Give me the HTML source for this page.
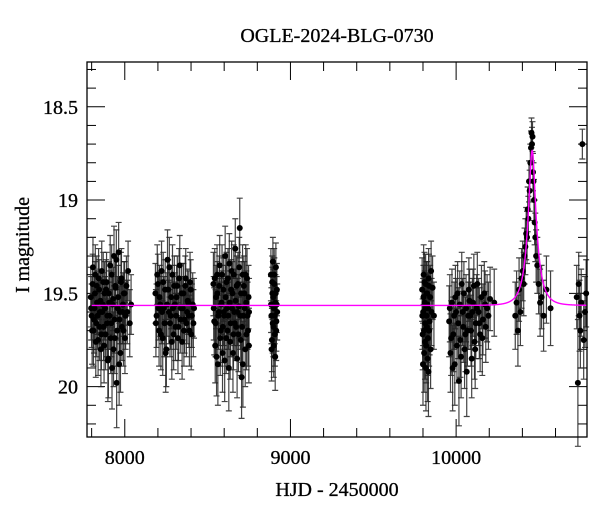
<!DOCTYPE html>
<html><head><meta charset="utf-8"><style>
html,body{margin:0;padding:0;background:#fff;}
svg{display:block;font-family:"Liberation Serif",serif;}
</style></head><body>
<svg id="chart" width="600" height="512" viewBox="0 0 600 512" xmlns="http://www.w3.org/2000/svg">
<text x="337" y="42" font-size="20" text-anchor="middle" stroke="#000" stroke-width="0.3">OGLE-2024-BLG-0730</text>
<text x="337" y="496" font-size="20" text-anchor="middle" stroke="#000" stroke-width="0.3">HJD - 2450000</text>
<text x="0" y="0" font-size="20" text-anchor="middle" stroke="#000" stroke-width="0.3" transform="translate(29,245) rotate(-90)">I magnitude</text>
<g id="ticks"></g>
<g id="errs"></g>
<g id="pts"></g>
<path id="model" fill="none" stroke="#ff00ff" stroke-width="1.4"/>
<rect x="87" y="62" width="500" height="375" fill="none" stroke="#000" stroke-width="1.3"/>
</svg>
<script>
const xTicksMajor = [8000, 9000, 10000];
const yTicksMajor = [18.5, 19, 19.5, 20];
const yTickLabels = ["18.5", "19", "19.5", "20"];
const modelParams = [10459, 60, 0.3, 0.47, 19.565]; // t0, tE, u0, fs, baseline

const hjd1 = [7795,7800,7806,7811,7817,7822,7828,7833,7839,7845,7850,7856,7861,7867,7872,7878,7884,7890,7895,7901,7906,7912,7918,7923,7929,7935,7940,7946,7951,7957,7963,7968,7974,7980,7986,7992,7998,8005,8020,8038];
const mag1 = [19.52,19.62,19.45,19.70,19.58,19.40,19.66,19.55,19.75,19.48,19.60,19.80,19.38,19.56,19.68,19.50,19.72,19.44,19.62,19.85,19.55,19.35,19.66,19.90,19.53,19.30,19.74,19.47,19.98,19.58,19.28,19.64,19.82,19.42,19.60,19.70,19.50,19.62,19.38,19.56];
const err1 = [0.16,0.17,0.16,0.19,0.17,0.16,0.18,0.17,0.19,0.16,0.17,0.20,0.16,0.17,0.18,0.17,0.19,0.16,0.18,0.21,0.17,0.16,0.18,0.22,0.17,0.16,0.19,0.17,0.24,0.17,0.16,0.18,0.21,0.16,0.17,0.19,0.17,0.18,0.16,0.16];
const hjd1b = [7797,7803,7808,7814,7820,7825,7831,7836,7842,7848,7853,7859,7864,7870,7875,7881,7887,7893,7898,7904,7909,7915,7921,7926,7932,7938,7943,7949,7954,7960,7966,7971,7977,7983,7989,7995,8001,8010,8015,8030];
const mag1b = [19.58,19.70,19.36,19.64,19.50,19.76,19.46,19.62,19.42,19.68,19.54,19.72,19.60,19.44,19.78,19.58,19.48,19.66,19.86,19.50,19.62,19.74,19.40,19.56,19.80,19.64,19.46,19.32,19.70,19.52,19.88,19.60,19.44,19.68,19.56,19.50,19.74,19.46,19.60,19.66];
const err1b = [0.17,0.18,0.16,0.18,0.17,0.19,0.16,0.18,0.16,0.18,0.17,0.19,0.17,0.16,0.20,0.17,0.16,0.18,0.22,0.17,0.18,0.19,0.16,0.17,0.20,0.18,0.16,0.16,0.19,0.17,0.22,0.17,0.16,0.18,0.17,0.17,0.19,0.16,0.17,0.18];

const hjd2 = [8185,8192,8200,8207,8214,8222,8229,8236,8244,8251,8258,8266,8273,8280,8288,8295,8302,8310,8317,8324,8332,8339,8346,8354,8361,8368,8376,8383,8390,8398,8405,8418];
const mag2 = [19.50,19.62,19.45,19.70,19.56,19.38,19.74,19.58,19.48,19.80,19.32,19.60,19.66,19.52,19.40,19.72,19.56,19.62,19.46,19.68,19.35,19.58,19.76,19.50,19.64,19.42,19.60,19.55,19.70,19.48,19.62,19.58];
const err2 = [0.16,0.17,0.16,0.19,0.17,0.16,0.20,0.17,0.16,0.20,0.16,0.17,0.18,0.17,0.16,0.19,0.17,0.18,0.16,0.18,0.16,0.17,0.20,0.16,0.18,0.16,0.17,0.17,0.19,0.16,0.17,0.16];
const hjd2b = [8188,8196,8203,8210,8218,8225,8232,8240,8247,8255,8262,8269,8277,8284,8291,8299,8306,8313,8321,8328,8335,8343,8350,8357,8365,8372,8380,8387,8394,8401,8410,8414];
const mag2b = [19.66,19.40,19.58,19.52,19.72,19.60,19.44,19.66,19.82,19.56,19.48,19.36,19.62,19.76,19.58,19.46,19.68,19.52,19.74,19.42,19.64,19.50,19.58,19.70,19.46,19.66,19.54,19.62,19.44,19.72,19.56,19.66];
const err2b = [0.18,0.16,0.17,0.17,0.19,0.17,0.16,0.18,0.21,0.17,0.16,0.16,0.18,0.20,0.17,0.16,0.18,0.17,0.19,0.16,0.18,0.16,0.17,0.19,0.16,0.18,0.17,0.17,0.16,0.19,0.17,0.18];

const hjd3 = [8535,8540,8546,8551,8557,8562,8568,8573,8579,8584,8590,8595,8601,8606,8612,8617,8623,8628,8634,8639,8645,8650,8656,8661,8667,8672,8678,8683,8689,8694,8700,8705,8711,8716,8722,8727,8733,8738,8744,8750];
const mag3 = [19.45,19.65,19.78,19.52,19.40,19.88,19.60,19.35,19.70,19.55,19.82,19.48,19.62,19.30,19.74,19.58,19.42,19.90,19.55,19.66,19.38,19.50,19.72,19.60,19.26,19.68,19.85,19.45,19.57,19.15,19.75,19.95,19.40,19.62,19.50,19.80,19.55,19.42,19.70,19.60];
const err3 = [0.17,0.18,0.20,0.17,0.16,0.22,0.18,0.16,0.19,0.17,0.21,0.17,0.18,0.16,0.19,0.17,0.16,0.23,0.17,0.18,0.16,0.17,0.19,0.18,0.16,0.18,0.21,0.17,0.17,0.16,0.19,0.22,0.16,0.18,0.17,0.20,0.17,0.16,0.19,0.18];
const hjd3b = [8537,8543,8548,8554,8559,8565,8570,8576,8581,8587,8592,8598,8603,8609,8614,8620,8625,8631,8636,8642,8647,8653,8658,8664,8669,8675,8680,8686,8691,8697,8702,8708,8713,8719,8724,8730,8735,8741,8747,8749];
const mag3b = [19.58,19.42,19.66,19.84,19.50,19.62,19.46,19.74,19.56,19.40,19.68,19.60,19.86,19.52,19.44,19.70,19.62,19.34,19.76,19.48,19.58,19.82,19.40,19.66,19.54,19.46,19.60,19.72,19.36,19.62,19.50,19.68,19.88,19.46,19.58,19.40,19.72,19.62,19.52,19.78];
const err3b = [0.17,0.16,0.18,0.21,0.17,0.18,0.16,0.20,0.17,0.16,0.19,0.18,0.22,0.17,0.16,0.19,0.18,0.16,0.20,0.16,0.17,0.21,0.16,0.18,0.17,0.16,0.18,0.20,0.16,0.18,0.17,0.19,0.23,0.16,0.17,0.16,0.19,0.18,0.17,0.20];

const hjd4 = [8882,8885,8888,8891,8894,8897,8900,8903,8906,8909,8912,8915,8918,8920];
const mag4 = [19.40,19.62,19.75,19.50,19.33,19.68,19.58,19.45,19.72,19.55,19.36,19.65,19.48,19.60];
const err4 = [0.14,0.15,0.17,0.14,0.13,0.16,0.15,0.14,0.17,0.15,0.13,0.16,0.14,0.15];
const hjd4b = [8883,8886,8890,8893,8896,8899,8902,8905,8908,8911,8914,8917];
const mag4b = [19.56,19.80,19.44,19.66,19.52,19.78,19.40,19.62,19.84,19.50,19.70,19.56];
const err4b = [0.15,0.17,0.14,0.16,0.15,0.17,0.14,0.15,0.18,0.14,0.16,0.15];

const hjd5 = [9795,9798,9801,9804,9807,9810,9813,9816,9819,9822,9825,9828,9831,9834,9837,9840,9843,9846,9849,9852,9858,9866];
const mag5 = [19.48,19.72,19.60,19.40,19.82,19.55,19.66,19.45,19.78,19.62,19.50,19.85,19.58,19.42,19.70,19.65,19.52,19.80,19.38,19.60,19.47,19.62];
const err5 = [0.17,0.19,0.18,0.16,0.21,0.17,0.18,0.16,0.20,0.18,0.17,0.23,0.17,0.16,0.19,0.18,0.17,0.21,0.16,0.18,0.17,0.18];
const hjd5b = [9796,9800,9803,9806,9809,9812,9815,9818,9821,9824,9827,9830,9833,9836];
const mag5b = [19.62,19.88,19.52,19.70,19.44,19.76,19.58,19.90,19.50,19.68,19.56,19.74,19.92,19.46];
const err5b = [0.18,0.22,0.17,0.19,0.16,0.20,0.18,0.23,0.17,0.19,0.17,0.20,0.24,0.17];

const hjd6 = [9958,9966,9975,9983,9992,10000,10009,10017,10026,10034,10043,10051,10060,10068,10077,10085,10094,10102,10111,10119,10128,10136,10145,10153,10162,10170,10179,10187,10205,10230];
const mag6 = [19.65,19.82,19.55,19.72,19.88,19.60,19.50,19.97,19.75,19.45,19.68,19.80,19.58,19.70,19.48,19.62,19.85,19.55,19.76,19.66,19.45,19.60,19.72,19.52,19.64,19.50,19.68,19.58,19.53,19.55];
const err6 = [0.19,0.21,0.18,0.20,0.22,0.18,0.17,0.24,0.20,0.17,0.19,0.21,0.18,0.19,0.17,0.18,0.21,0.18,0.20,0.19,0.17,0.18,0.20,0.17,0.19,0.17,0.19,0.18,0.17,0.18];
const hjd6b = [9962,9970,9979,9988,9996,10005,10013,10022,10030,10039,10047,10056,10064,10073,10081,10090,10098,10107,10115,10124,10140,10158,10175,10195];
const mag6b = [19.58,19.74,19.90,19.62,19.52,19.78,19.66,19.56,19.84,19.60,19.50,19.72,19.92,19.62,19.54,19.70,19.60,19.46,19.80,19.58,19.66,19.74,19.56,19.62];
const err6b = [0.18,0.20,0.23,0.18,0.17,0.20,0.19,0.18,0.22,0.18,0.17,0.20,0.24,0.18,0.17,0.19,0.18,0.17,0.21,0.18,0.19,0.20,0.18,0.18];

const hjd7 = [10357,10365,10373,10380,10388,10395,10402,10408,10413,10418,10423,10428,10432,10436,10440,10444,10448,10452,10455,10458,10461,10464,10467,10470,10474,10478,10483,10490,10498,10507,10516,10528,10545,10570];
const mag7 = [19.62,19.55,19.70,19.48,19.60,19.42,19.38,19.45,19.30,19.25,19.18,19.20,19.05,19.10,18.90,18.95,18.80,18.72,18.64,18.70,18.66,18.85,18.90,19.00,19.12,19.20,19.30,19.35,19.45,19.55,19.52,19.62,19.48,19.58];
const err7 = [0.18,0.17,0.19,0.17,0.18,0.16,0.16,0.17,0.15,0.15,0.14,0.14,0.12,0.12,0.11,0.11,0.10,0.09,0.08,0.09,0.08,0.10,0.10,0.11,0.12,0.13,0.14,0.15,0.16,0.18,0.17,0.19,0.18,0.20];

const hjd8 = [10728,10735,10740,10745,10750,10755,10762,10770,10778,10785];
const mag8 = [19.52,19.98,19.45,19.62,19.70,19.55,18.70,19.75,19.60,19.50];
const err8 = [0.17,0.34,0.17,0.19,0.20,0.18,0.08,0.21,0.19,0.18];

const hjd = [].concat(hjd1,hjd1b,hjd2,hjd2b,hjd3,hjd3b,hjd4,hjd4b,hjd5,hjd5b,hjd6,hjd6b,hjd7,hjd8);
const mag = [].concat(mag1,mag1b,mag2,mag2b,mag3,mag3b,mag4,mag4b,mag5,mag5b,mag6,mag6b,mag7,mag8);
const err = [].concat(err1,err1b,err2,err2b,err3,err3b,err4,err4b,err5,err5b,err6,err6b,err7,err8);

const NS = "http://www.w3.org/2000/svg";
const L = 87, R = 587, T = 62, B = 437;
const xMin = 7772, xMax = 10790, yMin = 18.26, yMax = 20.27;
function X(t){ return L + (t - xMin) / (xMax - xMin) * (R - L); }
function Y(m){ return T + (m - yMin) / (yMax - yMin) * (B - T); }
function mk(tag, attrs, parent){ const e = document.createElementNS(NS, tag); for (const k in attrs) e.setAttribute(k, attrs[k]); parent.appendChild(e); return e; }

const tg = document.getElementById('ticks');
for (let t = 7800; t <= 10790; t += 200) {
  const major = xTicksMajor.includes(t);
  const len = major ? 18 : 9;
  const x = X(t);
  const a = mk('line', {x1:x, x2:x, y1:B, y2:B-len, stroke:'#000', 'stroke-width':1}, tg);
  
  
  const b = mk('line', {x1:x, x2:x, y1:T, y2:T+len, stroke:'#000', 'stroke-width':1}, tg);
  
  
}
xTicksMajor.forEach(t => {
  const lab = mk('text', {x:X(t), y:464, 'font-size':20, 'text-anchor':'middle', stroke:'#000', 'stroke-width':0.3}, tg);
  lab.textContent = String(t);
  
  
});
for (let i = 0; i <= 20; i++) {
  const m = 18.3 + i * 0.1;
  if (m > yMax) break;
  const major = Math.abs(m * 2 - Math.round(m * 2)) < 1e-6;
  const len = major ? 18 : 9;
  const y = Y(m);
  const a = mk('line', {x1:L, x2:L+len, y1:y, y2:y, stroke:'#000', 'stroke-width':1}, tg);
  
  
  const b = mk('line', {x1:R, x2:R-len, y1:y, y2:y, stroke:'#000', 'stroke-width':1}, tg);
  
  
}
yTicksMajor.forEach((m, i) => {
  const lab = mk('text', {x:78, y:Y(m)+7, 'font-size':20, 'text-anchor':'end', stroke:'#000', 'stroke-width':0.3}, tg);
  lab.textContent = yTickLabels[i];
  
  
});

const eg = document.getElementById('errs');
const pg = document.getElementById('pts');
for (let i = 0; i < hjd.length; i++) {
  const x = X(hjd[i]), y1 = Y(mag[i] - err[i]), y2 = Y(mag[i] + err[i]);
  const e = mk('path', {d:`M${x},${y1}V${y2}M${x-3},${y1}H${x+3}M${x-3},${y2}H${x+3}`, stroke:'#222', 'stroke-width':1.2, fill:'none', 'stroke-opacity':0.85}, eg);
  
  
  const c = mk('circle', {cx:x, cy:Y(mag[i]), r:3, fill:'#000'}, pg);
  
  
}

const [t0, tE, u0, fs, base] = modelParams;
let d = '';
for (let t = 7800; t <= 10790; t += 1) {
  const u = Math.sqrt(u0*u0 + ((t - t0)/tE)**2);
  const A = (u*u + 2) / (u * Math.sqrt(u*u + 4));
  const m = base - 2.5 * Math.log10(fs * (A - 1) + 1);
  d += (d ? 'L' : 'M') + X(t).toFixed(2) + ',' + Y(m).toFixed(2);
}
document.getElementById('model').setAttribute('d', d);
</script>
</body></html>
